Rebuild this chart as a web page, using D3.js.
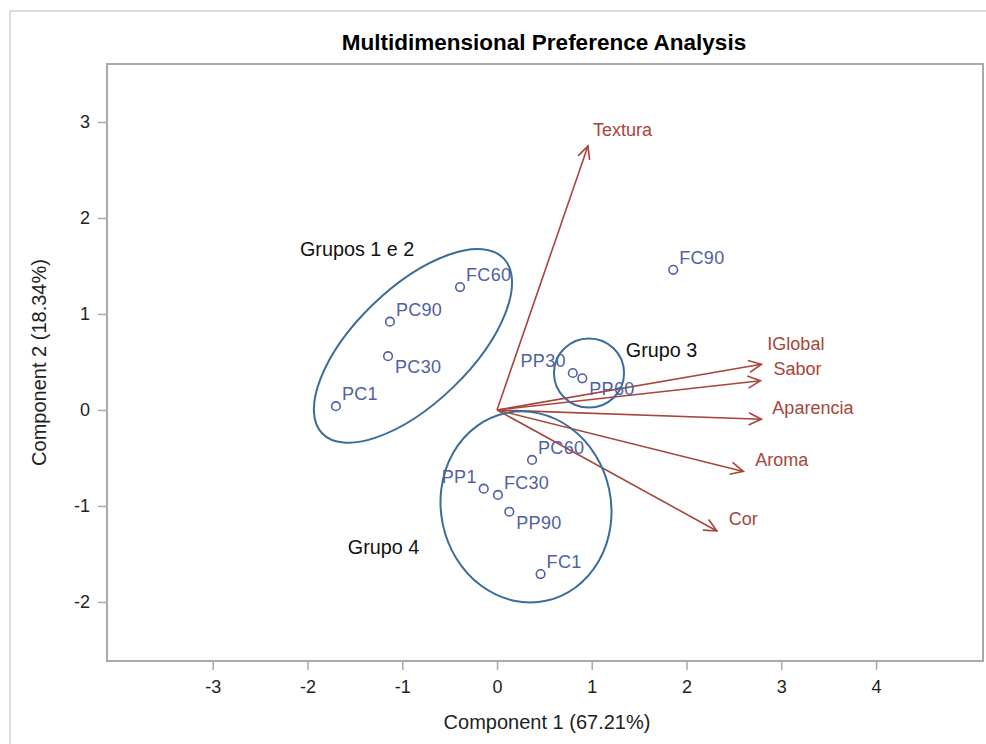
<!DOCTYPE html>
<html>
<head>
<meta charset="utf-8">
<script src="https://cdn.jsdelivr.net/npm/d3@7"></script>
<style>
  html, body { margin: 0; padding: 0; background: #ffffff; }
  svg { display: block; }
  text { font-family: "Liberation Sans", Arial, sans-serif; }
</style>
</head>
<body>
<svg id="chart" width="986" height="744"></svg>
<script>
// Product scores on the first two principal components
const products = ["PC1", "PC30", "PC90", "FC60", "FC90", "PP30", "PP60", "PC60", "PP1", "FC30", "PP90", "FC1"];
const prodX = [-1.70, -1.15, -1.13, -0.39, 1.86, 0.80, 0.90, 0.37, -0.14, 0.01, 0.13, 0.46];
const prodY = [0.04, 0.56, 0.92, 1.28, 1.46, 0.385, 0.33, -0.52, -0.82, -0.885, -1.06, -1.71];

// Attribute (judge preference) vectors
const attributes = ["Textura", "IGlobal", "Sabor", "Aparencia", "Aroma", "Cor"];
const attrX = [0.96, 2.79, 2.78, 2.79, 2.60, 2.32];
const attrY = [2.75, 0.476, 0.305, -0.097, -0.64, -1.26];

// Tick values
const xTicks = [-3, -2, -1, 0, 1, 2, 3, 4];
const yTicks = [-2, -1, 0, 1, 2, 3];

// Group outlines (centre and radii in component units, rotation in degrees)
const groupNames = ["Grupos 1 e 2", "Grupo 3", "Grupo 4"];
const groupCX = [-0.887, 0.971, 0.306];
const groupCY = [0.667, 0.385, -1.01];
const groupRX = [1.33, 0.37, 0.897];
const groupRY = [0.60, 0.36, 1.0];
const groupRot = [-44, 0, -12];
const groupLabelX = [-2.08, 1.36, -1.575];
const groupLabelY = [1.60, 0.555, -1.5];

// Label placement around markers
const pointLabelSide = {
  PC1: "tr", PC30: "br", PC90: "tr", FC60: "tr", FC90: "tr", PP30: "tl",
  PP60: "br", PC60: "tr", PP1: "tl", FC30: "tr", PP90: "br", FC1: "tr"
};
const sideOffset = {
  tr: { dx: 6, dy: -6, anchor: "start" },
  br: { dx: 7, dy: 17, anchor: "start" },
  tl: { dx: -7, dy: -6, anchor: "end" }
};
const vectorLabelOffset = {
  Textura: [5, -10], IGlobal: [6, -14], Sabor: [13, -6],
  Aparencia: [11, -5], Aroma: [12, -5], Cor: [12, -6]
};

const svg = d3.select("#chart");
const W = 986, H = 744;
const plot = { left: 107, right: 983, top: 64, bottom: 661 };

const x = d3.scaleLinear().domain([-4.116, 5.129]).range([plot.left, plot.right]);
const y = d3.scaleLinear().domain([-2.615, 3.604]).range([plot.bottom, plot.top]);

const frameColor = "#a9a9a9";
const pointColor = "#5060a4";
const vectorColor = "#a8453a";
const groupColor = "#3a6d9b";

// Outer page frame
svg.append("line").attr("x1", 10).attr("y1", 11).attr("x2", W).attr("y2", 11)
  .attr("stroke", "#cfcfcf").attr("stroke-width", 1.5);
svg.append("line").attr("x1", 10).attr("y1", 11).attr("x2", 10).attr("y2", H)
  .attr("stroke", "#cfcfcf").attr("stroke-width", 1.5);

// Title
svg.append("text")
  .attr("x", 544).attr("y", 50)
  .attr("text-anchor", "middle")
  .attr("font-size", 22.5).attr("font-weight", "bold").attr("fill", "#000")
  .text("Multidimensional Preference Analysis");

// Axes
const xAxis = svg.append("g")
  .attr("transform", `translate(0,${plot.bottom})`)
  .call(d3.axisBottom(x).tickValues(xTicks).tickSize(9).tickPadding(10).tickFormat(d3.format("d")));
const yAxis = svg.append("g")
  .attr("transform", `translate(${plot.left},0)`)
  .call(d3.axisLeft(y).tickValues(yTicks).tickSize(9).tickPadding(8).tickFormat(d3.format("d")));
[xAxis, yAxis].forEach(g => {
  g.select(".domain").remove();
  g.selectAll(".tick line").attr("stroke", frameColor).attr("stroke-width", 1.5);
  g.selectAll(".tick text").attr("fill", "#222").attr("font-size", 18)
    .attr("font-family", "'Liberation Sans', Arial, sans-serif")
    .text(d => d < 0 ? "-" + Math.abs(d) : d);
});

// Plot frame
svg.append("rect")
  .attr("x", plot.left).attr("y", plot.top)
  .attr("width", plot.right - plot.left).attr("height", plot.bottom - plot.top)
  .attr("fill", "none").attr("stroke", frameColor).attr("stroke-width", 2);

// Axis titles
svg.append("text")
  .attr("x", 547).attr("y", 729)
  .attr("text-anchor", "middle").attr("font-size", 20).attr("fill", "#222")
  .text("Component 1 (67.21%)");
svg.append("text")
  .attr("transform", `translate(46,${(plot.top + plot.bottom) / 2}) rotate(-90)`)
  .attr("text-anchor", "middle").attr("font-size", 20).attr("fill", "#222")
  .text("Component 2 (18.34%)");

// Attribute vectors with open arrowheads
const ox = x(0), oy = y(0);
const vecG = svg.append("g");
attributes.forEach((name, i) => {
  const tx = x(attrX[i]), ty = y(attrY[i]);
  const ang = Math.atan2(ty - oy, tx - ox);
  const headLen = 14, headAng = Math.PI / 7;
  vecG.append("line")
    .attr("x1", ox).attr("y1", oy).attr("x2", tx).attr("y2", ty)
    .attr("stroke", vectorColor).attr("stroke-width", 1.6);
  const p1 = [tx - headLen * Math.cos(ang - headAng), ty - headLen * Math.sin(ang - headAng)];
  const p2 = [tx - headLen * Math.cos(ang + headAng), ty - headLen * Math.sin(ang + headAng)];
  vecG.append("path")
    .attr("d", `M${p1[0]},${p1[1]}L${tx},${ty}L${p2[0]},${p2[1]}`)
    .attr("fill", "none").attr("stroke", vectorColor).attr("stroke-width", 1.6)
    .attr("stroke-linejoin", "miter");
  const off = vectorLabelOffset[name];
  vecG.append("text")
    .attr("x", tx + off[0]).attr("y", ty + off[1])
    .attr("font-size", 18).attr("fill", vectorColor)
    .text(name);
});

// Product markers and labels
const ptG = svg.append("g");
products.forEach((name, i) => {
  const px = x(prodX[i]), py = y(prodY[i]);
  ptG.append("circle")
    .attr("cx", px).attr("cy", py).attr("r", 4.3)
    .attr("fill", "none").attr("stroke", pointColor).attr("stroke-width", 1.6);
  const s = sideOffset[pointLabelSide[name]];
  ptG.append("text")
    .attr("x", px + s.dx).attr("y", py + s.dy)
    .attr("text-anchor", s.anchor)
    .attr("font-size", 18).attr("letter-spacing", 0.3).attr("fill", pointColor)
    .text(name);
});

// Group outlines and their captions
const kx = Math.abs(x(1) - x(0)), ky = Math.abs(y(1) - y(0));
const grpG = svg.append("g");
groupNames.forEach((name, i) => {
  grpG.append("ellipse")
    .attr("transform", `translate(${x(groupCX[i])},${y(groupCY[i])}) rotate(${groupRot[i]})`)
    .attr("rx", groupRX[i] * kx).attr("ry", groupRY[i] * ky)
    .attr("fill", "none").attr("stroke", groupColor).attr("stroke-width", 2);
  grpG.append("text")
    .attr("x", x(groupLabelX[i])).attr("y", y(groupLabelY[i]))
    .attr("font-family", "'Open Sans', 'Noto Sans', sans-serif")
    .attr("font-size", 19.8).attr("fill", "#111")
    .text(name);
});
</script>
</body>
</html>
